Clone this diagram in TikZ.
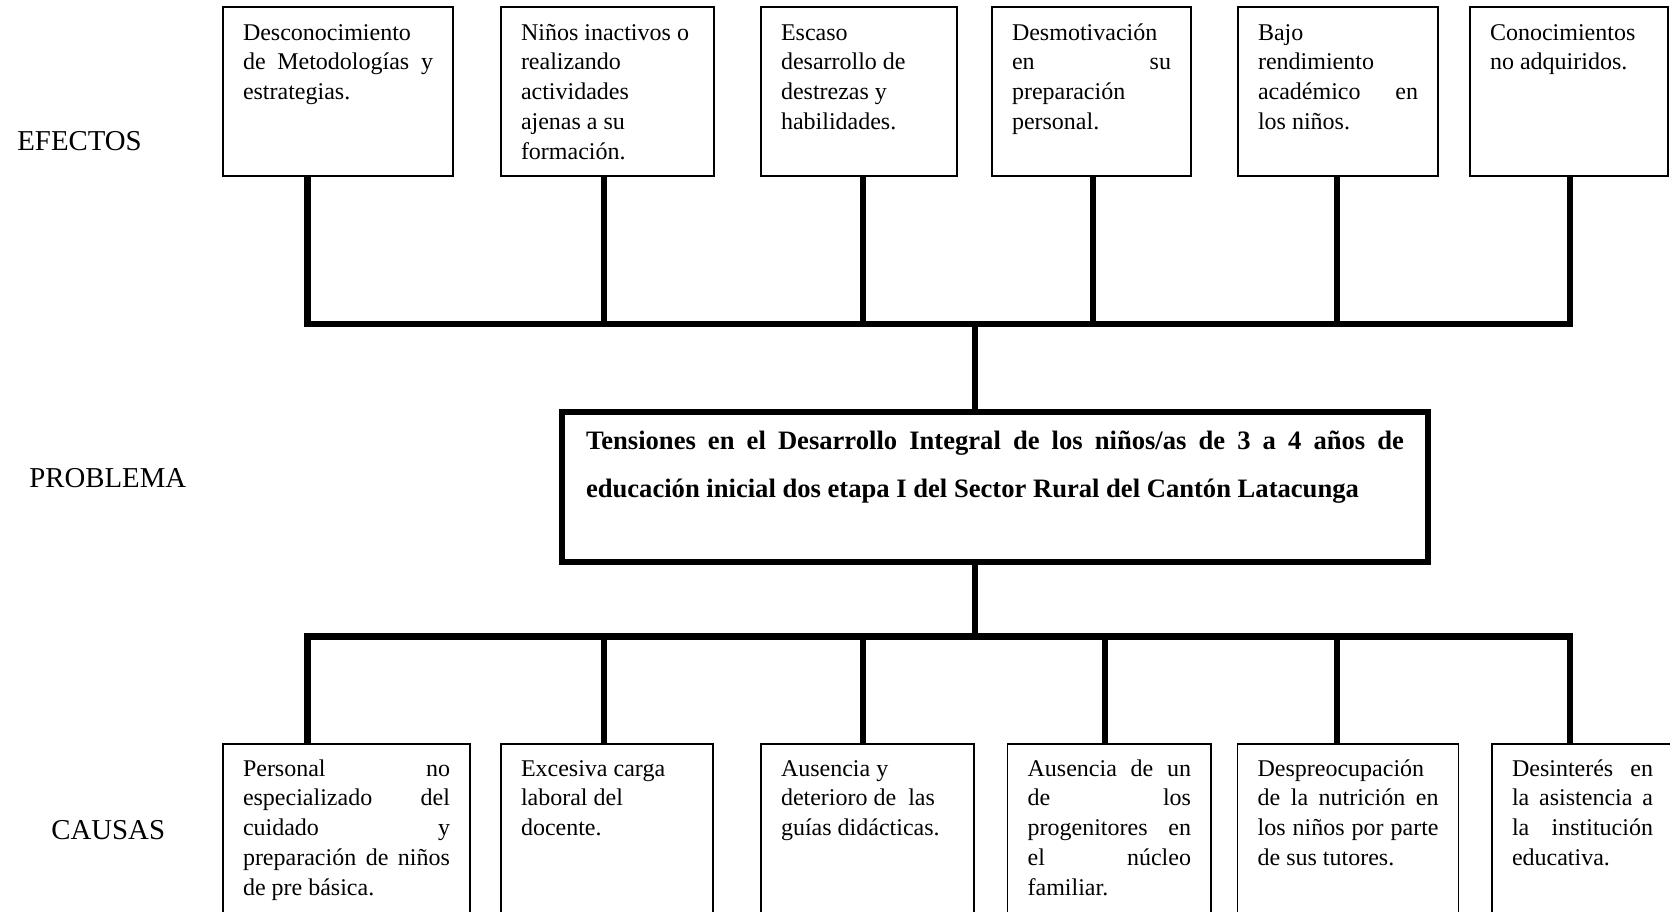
\documentclass[tikz,border=0pt]{standalone}
\usepackage{fontspec}
\setmainfont{Liberation Serif}
\tolerance=10000
\hyphenpenalty=10000
\begin{document}
\begin{tikzpicture}[x=0.5pt,y=-0.5pt,
		caja/.style={draw, line width=0.75pt, anchor=north west, outer sep=0pt,
			inner xsep=10pt, align=justify, text height=8.4pt,
			font=\fontsize{12}{14.9}\selectfont},
		efecto/.style={caja, inner ysep=8.1pt, text depth=59.9pt},
		causa/.style={caja, inner ysep=7.6pt, text depth=74.4pt},
		conector/.style={line width=3.2pt, line join=miter},
		etiqueta/.style={anchor=base west, inner sep=0pt, font=\fontsize{14.4}{17}\selectfont}]
		\pgfmathsetmacro{\yarriba}{324}
		\pgfmathsetmacro{\yabajo}{636.5}
		\pgfmathsetmacro{\xcentro}{974.7}
		
		\useasboundingbox[fill=white] (0,0) rectangle (1670,911);
		
		\node[etiqueta] (efectos) at (17,150) {EFECTOS};
		\node[etiqueta] (problemalbl) at (29,487) {PROBLEMA};
		\node[etiqueta] (causas) at (51,839) {CAUSAS};
		
		\node[efecto, text width=95pt] (e1) at (223,7) {Desconocimiento\newline de Metodologías y\linebreak estrategias.};
		\node[efecto, text width=86.5pt] (e2) at (501,7) {Niños inactivos o\newline realizando\newline actividades\newline ajenas a su\newline formación.};
		\node[efecto, text width=78pt] (e3) at (761,7) {Escaso\newline desarrollo de\newline destrezas y\newline habilidades.};
		\node[efecto, text width=79.5pt] (e4) at (992,7) {Desmotivación\newline en su\linebreak preparación\newline personal.};
		\node[efecto, text width=80pt] (e5) at (1238,7) {Bajo\newline rendimiento\newline académico en\linebreak los niños.};
		\node[efecto, text width=79pt] (e6) at (1470,7) {Conocimientos\newline no adquiridos.};
		
		\node[draw, line width=3pt, anchor=north west, outer sep=0pt, inner xsep=12pt,
			inner ysep=9.25pt, text width=409pt, text height=9.5pt, text depth=47pt,
			align=justify, font=\bfseries\fontsize{13.3}{24}\selectfont] (problema) at (562,411.5)
			{Tensiones en el Desarrollo Integral de los niños/as de 3 a 4 años de\linebreak educación inicial dos etapa I del Sector Rural del Cantón Latacunga};
		
		\node[causa, text width=103.5pt] (c1) at (223,744) {Personal no\linebreak especializado del\linebreak cuidado y\linebreak preparación de niños\linebreak de pre básica.};
		\node[causa, text width=86pt] (c2) at (501,744) {Excesiva carga\newline laboral del\newline docente.};
		\node[causa, text width=86.5pt] (c3) at (761,744) {Ausencia y\newline deterioro de\ \ las\newline guías didácticas.};
		\node[causa, text width=81.7pt] (c4) at (1007.6,744) {Ausencia de un\linebreak de los\linebreak progenitores en\linebreak el núcleo\linebreak familiar.};
		\node[causa, text width=90.5pt] (c5) at (1237.6,744) {Despreocupación\newline de la nutrición en\linebreak los niños por parte\linebreak de sus tutores.};
		\node[causa, text width=70.5pt] (c6) at (1492,744) {Desinterés en\linebreak la asistencia a\linebreak la institución\linebreak educativa.};
		
		\foreach \n/\x in {1/307.3, 2/604, 3/862.7, 4/1092.8, 5/1336.7, 6/1570}
			\coordinate (ta\n) at (\x, \yarriba);
		\foreach \n/\x in {1/307.3, 2/604, 3/862.7, 4/1104.7, 5/1336.7, 6/1570}
			\coordinate (ba\n) at (\x, \yabajo);
		\coordinate (tc) at (\xcentro, \yarriba);
		\coordinate (bc) at (\xcentro, \yabajo);
		
		\draw[conector] (ta1 |- e1.south) -- (ta1) -- (ta6) -- (ta6 |- e6.south);
		\foreach \i in {2,...,5}
			\draw[conector] (ta\i |- e\i.south) -- (ta\i);
		\draw[conector] (tc) -- (tc |- problema.north);
		\draw[conector] (bc |- problema.south) -- (bc);
		\draw[conector] (ba1 |- c1.north) -- (ba1) -- (ba6) -- (ba6 |- c6.north);
		\foreach \i in {2,...,5}
			\draw[conector] (ba\i) -- (ba\i |- c\i.north);
	\end{tikzpicture}
\end{document}
